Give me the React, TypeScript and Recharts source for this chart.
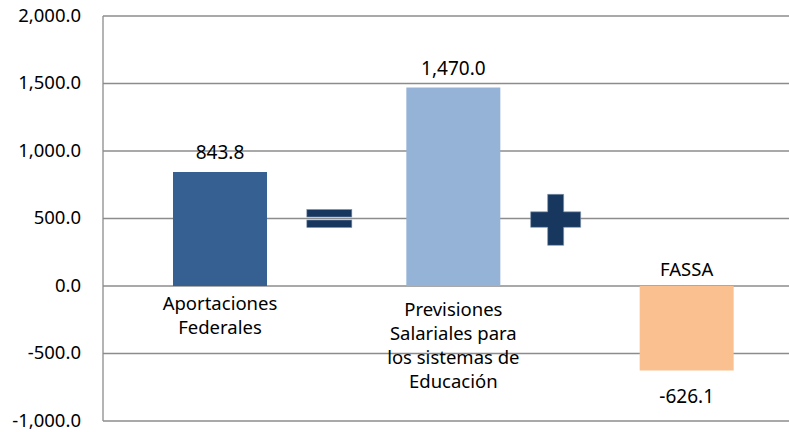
import { BarChart, Bar, XAxis, YAxis, CartesianGrid, Cell, LabelList, ReferenceDot } from "recharts";

const categories = ["Aportaciones\nFederales", "Previsiones\nSalariales para\nlos sistemas de\nEducación", "FASSA"];
const values = [843.8, 1470.0, -626.1];
const barColors = ["#376092", "#95B3D7", "#FAC090"];
const yTicks = [-1000, -500, 0, 500, 1000, 1500, 2000];
// the "=" and "+" signs between the bars
const signs = [
  { kind: "equals", x: 0.47, y: 500 },
  { kind: "plus", x: 1.44, y: 490 },
];

const data = categories.map((name, i) => ({ x: i, name, value: values[i] }));

const fmt = (v: number) =>
  v.toLocaleString("en-US", { minimumFractionDigits: 1, maximumFractionDigits: 1 });

const FONT = "'Noto Sans', sans-serif";
const NAVY = "#17375E";

function ValueLabel(props: any) {
  const { x, y, width, height, index } = props;
  const v = values[index];
  const top = Math.min(y, y + height);
  const bottom = Math.max(y, y + height);
  const cx = x + width / 2;
  const ty = v >= 0 ? top - 13 : bottom + 32;
  return (
    <text x={cx} y={ty} textAnchor="middle" fontSize={19} fontFamily={FONT} fill="#000">
      {fmt(v)}
    </text>
  );
}

function NameLabel(props: any) {
  const { x, y, width, height, index } = props;
  const v = values[index];
  const zero = v >= 0 ? Math.max(y, y + height) : Math.min(y, y + height);
  const lines = categories[index].split("\n");
  const cx = x + width / 2;
  const startY = v >= 0 ? zero + (index === 1 ? 30 : 24) : zero - 10;
  return (
    <text textAnchor="middle" fontSize={18.5} fontFamily={FONT} fill="#000">
      {lines.map((l, i) => (
        <tspan key={i} x={cx} y={startY + i * 24}>
          {l}
        </tspan>
      ))}
    </text>
  );
}

function SignShape(kind: string) {
  return (props: any) => {
    const { cx, cy } = props;
    if (kind === "equals") {
      return (
        <g>
          <rect x={cx - 22.5} y={cy - 9} width={45} height={7.5} fill={NAVY} stroke="#7F93AD" strokeWidth={0.6} />
          <rect x={cx - 22.5} y={cy + 1.5} width={45} height={7.5} fill={NAVY} stroke="#7F93AD" strokeWidth={0.6} />
        </g>
      );
    }
    return (
      <path
        d={`M${cx - 8},${cy - 25.5} h16 v17.5 h17 v15.5 h-17 v18 h-16 v-18 h-17 v-15.5 h17 z`}
        fill={NAVY}
        stroke="#7F93AD"
        strokeWidth={0.6}
      />
    );
  };
}

export default function App() {
  return (
    <div
      style={{
        position: "fixed",
        left: 0,
        top: 0,
        width: 789,
        height: 432,
        overflow: "hidden",
        background: "#fff",
      }}
    >
      <BarChart width={803} height={432} data={data} margin={{ top: 16, right: 0, left: 0, bottom: 11 }}>
        <CartesianGrid horizontal vertical={false} stroke="#8C8C8C" strokeWidth={1.3} />
        <XAxis dataKey="x" type="number" domain={[-0.5, 2.5]} hide />
        <YAxis
          width={103}
          domain={[-1000, 2000]}
          ticks={yTicks}
          interval={0}
          tickFormatter={fmt}
          axisLine={{ stroke: "#8C8C8C", strokeWidth: 1.3 }}
          tickLine={false}
          tickMargin={16}
          tick={{ fontSize: 18.5, fill: "#000", fontFamily: FONT, dy: -1 }}
        />
        <Bar dataKey="value" barSize={94} isAnimationActive={false}>
          {data.map((d, i) => (
            <Cell key={d.name} fill={barColors[i]} />
          ))}
          <LabelList dataKey="value" content={ValueLabel} />
          <LabelList dataKey="name" content={NameLabel} />
        </Bar>
        {signs.map((s) => (
          <ReferenceDot key={s.kind} x={s.x} y={s.y} r={0} shape={SignShape(s.kind)} />
        ))}
      </BarChart>
    </div>
  );
}
